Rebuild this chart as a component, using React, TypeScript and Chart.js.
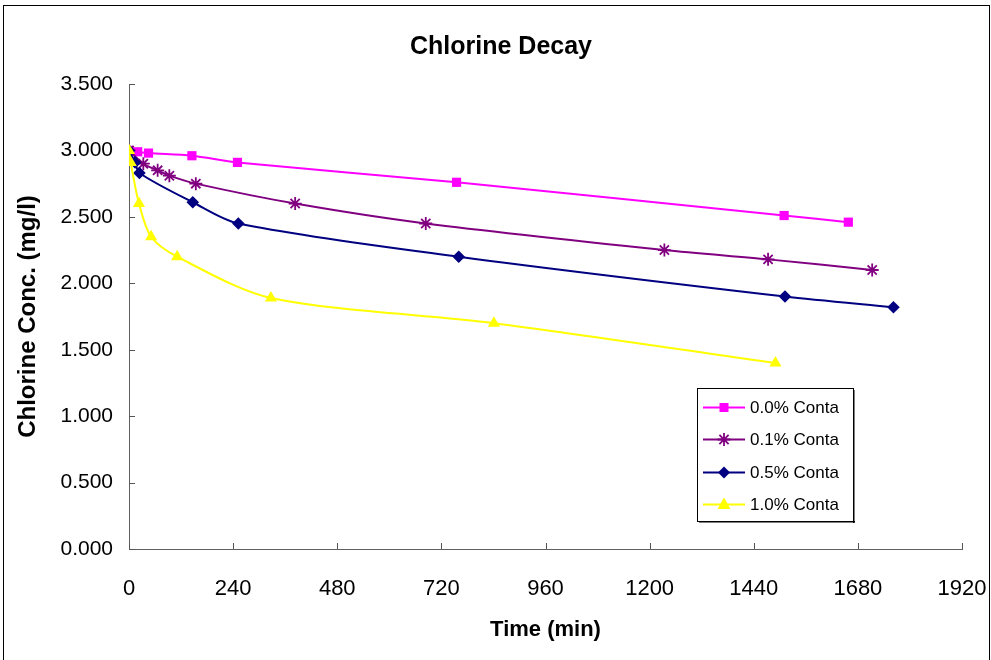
import React, { useEffect, useRef } from 'react';
import { Chart, registerables } from 'chart.js';

Chart.register(...registerables);

const chartTitle = 'Chlorine Decay';
const xTitle = 'Time (min)';
const yTitle = 'Chlorine Conc. (mg/l)';

const seriesNames = ['0.0% Conta', '0.1% Conta', '0.5% Conta', '1.0% Conta'];
const seriesColors = ['#FF00FF', '#800080', '#000080', '#FFFF00'];
const seriesStyles = ['rect', 'star', 'rectRot', 'triangle'];

const time00 = [0, 20, 45, 145, 250, 755, 1510, 1658];
const conc00 = [3.0, 2.99, 2.98, 2.96, 2.91, 2.76, 2.51, 2.46];

const time01 = [0, 33, 66, 93, 154, 383, 684, 1234, 1473, 1713];
const conc01 = [3.0, 2.9, 2.85, 2.81, 2.75, 2.6, 2.45, 2.25, 2.18, 2.1];

const time05 = [0, 14, 24, 147, 252, 760, 1512, 1762];
const conc05 = [3.0, 2.91, 2.83, 2.61, 2.45, 2.2, 1.9, 1.82];

const time10 = [0, 4, 23, 51, 111, 327, 841, 1490];
const conc10 = [3.0, 2.91, 2.6, 2.35, 2.2, 1.89, 1.7, 1.4];

const xMin = 0;
const xMax = 1920;
const xStep = 240;
const yMin = 0;
const yMax = 3.5;
const yStep = 0.5;

const FONT = "'Liberation Sans', Arial, sans-serif";

function pts(t: number[], c: number[]) {
  return t.map((x, i) => ({ x, y: c[i] }));
}

function drawMarker(ctx: CanvasRenderingContext2D, style: string, x: number, y: number, color: string) {
  ctx.save();
  ctx.fillStyle = color;
  ctx.strokeStyle = color;
  if (style === 'rect') {
    ctx.fillRect(x - 4.5, y - 4.5, 9, 9);
  } else if (style === 'rectRot') {
    ctx.beginPath();
    ctx.moveTo(x, y - 6);
    ctx.lineTo(x + 6, y);
    ctx.lineTo(x, y + 6);
    ctx.lineTo(x - 6, y);
    ctx.closePath();
    ctx.fill();
  } else if (style === 'triangle') {
    ctx.beginPath();
    ctx.moveTo(x, y - 7);
    ctx.lineTo(x + 6.5, y + 4.5);
    ctx.lineTo(x - 6.5, y + 4.5);
    ctx.closePath();
    ctx.fill();
  } else if (style === 'star') {
    ctx.lineWidth = 1.8;
    ctx.beginPath();
    const r = 6.5;
    ctx.moveTo(x - r, y);
    ctx.lineTo(x + r, y);
    ctx.moveTo(x, y - r);
    ctx.lineTo(x, y + r);
    const d = r * Math.SQRT1_2;
    ctx.moveTo(x - d, y - d);
    ctx.lineTo(x + d, y + d);
    ctx.moveTo(x - d, y + d);
    ctx.lineTo(x + d, y - d);
    ctx.stroke();
  }
  ctx.restore();
}

const framePlugin = {
  id: 'frame',
  beforeDraw(chart: any) {
    const { ctx, width, height } = chart;
    ctx.save();
    ctx.fillStyle = '#ffffff';
    ctx.fillRect(0, 0, width, height);
    ctx.strokeStyle = '#000000';
    ctx.lineWidth = 1;
    ctx.strokeRect(3.5, 5.5, 986, 700);
    ctx.fillStyle = '#000000';
    ctx.font = `bold 25px ${FONT}`;
    ctx.textAlign = 'center';
    ctx.textBaseline = 'middle';
    ctx.fillText(chartTitle, 501, 47);
    ctx.restore();
  },
};

const innerTicksPlugin = {
  id: 'innerTicks',
  beforeDatasetsDraw(chart: any) {
    const { ctx, chartArea, scales } = chart;
    ctx.save();
    ctx.strokeStyle = '#555555';
    ctx.lineWidth = 1;
    ctx.beginPath();
    for (let v = xMin; v <= xMax; v += xStep) {
      const px = Math.round(scales.x.getPixelForValue(v)) + 0.5;
      ctx.moveTo(px, chartArea.bottom);
      ctx.lineTo(px, chartArea.bottom - 6);
    }
    for (let v = yMin; v <= yMax + 1e-9; v += yStep) {
      const py = Math.round(scales.y.getPixelForValue(v)) + 0.5;
      ctx.moveTo(chartArea.left, py);
      ctx.lineTo(chartArea.left + 6, py);
    }
    ctx.stroke();
    ctx.restore();
  },
};

const legendPlugin = {
  id: 'boxLegend',
  afterDraw(chart: any) {
    const { ctx } = chart;
    const left = 697;
    const top = 388;
    const w = 156;
    const h = 133;
    ctx.save();
    ctx.fillStyle = '#ffffff';
    ctx.fillRect(left, top, w, h);
    ctx.strokeStyle = '#000000';
    ctx.lineWidth = 1;
    ctx.strokeRect(left + 0.5, top + 0.5, w, h);
    ctx.fillStyle = '#000000';
    ctx.fillRect(left + w, top + 2, 1.5, h);
    ctx.fillRect(left + 2, top + h, w, 1.5);
    const rowY = [407.5, 439.5, 472.5, 504.5];
    seriesNames.forEach((name, i) => {
      const y = rowY[i];
      ctx.strokeStyle = seriesColors[i];
      ctx.lineWidth = 2;
      ctx.beginPath();
      ctx.moveTo(703, y);
      ctx.lineTo(745, y);
      ctx.stroke();
      drawMarker(ctx, seriesStyles[i], 724, y, seriesColors[i]);
      ctx.fillStyle = '#000000';
      ctx.font = `17px ${FONT}`;
      ctx.textAlign = 'left';
      ctx.textBaseline = 'middle';
      ctx.fillText(name, 750, y + 1);
    });
    ctx.restore();
  },
};

export default function App() {
  const canvasRef = useRef<HTMLCanvasElement | null>(null);

  useEffect(() => {
    if (!canvasRef.current) return;
    const series = [
      pts(time00, conc00),
      pts(time01, conc01),
      pts(time05, conc05),
      pts(time10, conc10),
    ];
    const radii = [6.5, 6.5, 6.3, 7];
    const chart = new Chart(canvasRef.current, {
      type: 'line',
      data: {
        datasets: series.map((d, i) => ({
          label: seriesNames[i],
          data: d,
          borderColor: seriesColors[i],
          backgroundColor: seriesColors[i],
          pointBackgroundColor: seriesColors[i],
          pointBorderColor: seriesColors[i],
          pointStyle: seriesStyles[i] as any,
          pointRadius: radii[i],
          pointBorderWidth: seriesStyles[i] === 'star' ? 1.8 : 0,
          borderWidth: 2,
          tension: 0.3,
          fill: false,
          order: 3 - i,
        })),
      },
      options: {
        animation: false,
        responsive: false,
        maintainAspectRatio: false,
        events: [],
        layout: { padding: { top: 84, right: 29, left: 0, bottom: 0 } },
        plugins: {
          legend: { display: false },
          title: { display: false },
          tooltip: { enabled: false },
        },
        scales: {
          x: {
            type: 'linear',
            min: xMin,
            max: xMax,
            grid: { display: false, drawTicks: false },
            border: { display: true, color: '#606060', width: 1 },
            ticks: {
              stepSize: xStep,
              padding: 27,
              color: '#000000',
              font: { family: FONT, size: 22 },
              maxRotation: 0,
              autoSkip: false,
              callback: (v: any) => String(v),
            },
            title: {
              display: true,
              text: xTitle,
              color: '#000000',
              font: { family: FONT, size: 22, weight: 'bold' },
              padding: { top: 0, bottom: 17 },
            },
            afterFit(scale: any) {
              scale.height = 111;
              scale.paddingLeft = 0;
              scale.paddingRight = 0;
            },
          },
          y: {
            type: 'linear',
            min: yMin,
            max: yMax,
            grid: { display: false, drawTicks: false },
            border: { display: true, color: '#606060', width: 1 },
            ticks: {
              stepSize: yStep,
              padding: 16,
              color: '#000000',
              font: { family: FONT, size: 21 },
              callback: (v: any) => Number(v).toFixed(3),
            },
            title: {
              display: true,
              text: yTitle,
              color: '#000000',
              font: { family: FONT, size: 24, weight: 'bold' },
              padding: { top: 13.5, bottom: 0 },
            },
            afterFit(scale: any) {
              scale.width = 129;
              scale.paddingTop = 0;
              scale.paddingBottom = 0;
            },
          },
        },
      },
      plugins: [framePlugin, innerTicksPlugin, legendPlugin],
    });
    return () => chart.destroy();
  }, []);

  return (
    <div style={{ position: 'absolute', left: 0, top: 0, width: 991, height: 660, background: '#fff' }}>
      <canvas ref={canvasRef} width={991} height={660} style={{ display: 'block', width: 991, height: 660 }} />
    </div>
  );
}
